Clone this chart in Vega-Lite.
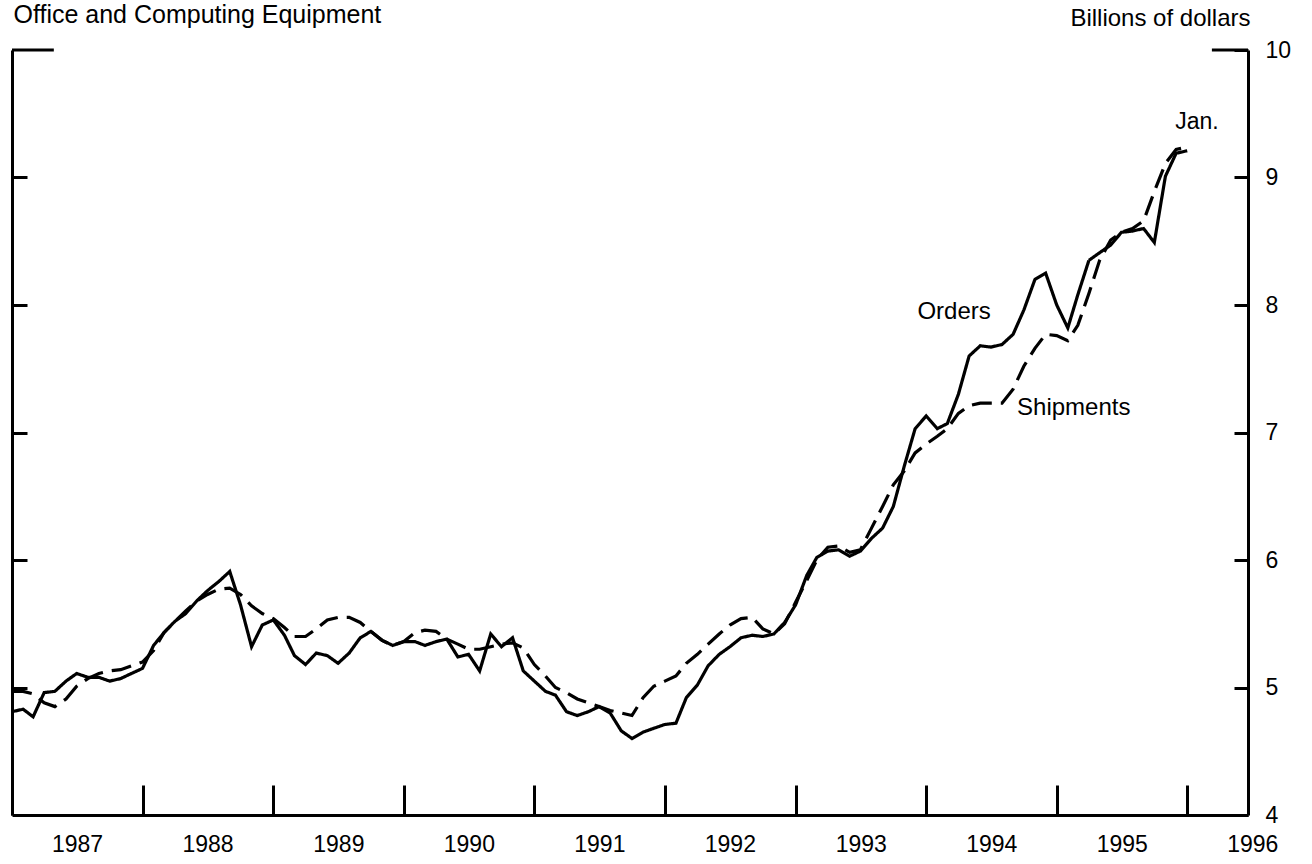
{
  "$schema": "https://vega.github.io/schema/vega-lite/v6.json",
  "width": 1236,
  "height": 765,
  "autosize": {"type": "none"},
  "padding": {"left": 12, "top": 50, "right": 64, "bottom": 49},
  "background": "white",
  "config": {"view": {"stroke": null}, "font": "Liberation Sans"},
  "data": {
    "values": [
      {"date":"1987-01","Orders":4.81,"Shipments":4.97},{"date":"1987-02","Orders":4.83,"Shipments":4.97},{"date":"1987-03","Orders":4.77,"Shipments":4.95},{"date":"1987-04","Orders":4.96,"Shipments":4.88},{"date":"1987-05","Orders":4.97,"Shipments":4.85},{"date":"1987-06","Orders":5.05,"Shipments":4.91},{"date":"1987-07","Orders":5.11,"Shipments":5.01},{"date":"1987-08","Orders":5.08,"Shipments":5.07},{"date":"1987-09","Orders":5.08,"Shipments":5.11},{"date":"1987-10","Orders":5.05,"Shipments":5.13},{"date":"1987-11","Orders":5.07,"Shipments":5.14},{"date":"1987-12","Orders":5.11,"Shipments":5.17},
      {"date":"1988-01","Orders":5.15,"Shipments":5.20},{"date":"1988-02","Orders":5.33,"Shipments":5.29},{"date":"1988-03","Orders":5.43,"Shipments":5.43},{"date":"1988-04","Orders":5.52,"Shipments":5.52},{"date":"1988-05","Orders":5.58,"Shipments":5.60},{"date":"1988-06","Orders":5.68,"Shipments":5.68},{"date":"1988-07","Orders":5.76,"Shipments":5.73},{"date":"1988-08","Orders":5.83,"Shipments":5.77},{"date":"1988-09","Orders":5.91,"Shipments":5.78},{"date":"1988-10","Orders":5.65,"Shipments":5.73},{"date":"1988-11","Orders":5.32,"Shipments":5.64},{"date":"1988-12","Orders":5.49,"Shipments":5.58},
      {"date":"1989-01","Orders":5.53,"Shipments":5.54},{"date":"1989-02","Orders":5.41,"Shipments":5.47},{"date":"1989-03","Orders":5.25,"Shipments":5.40},{"date":"1989-04","Orders":5.18,"Shipments":5.40},{"date":"1989-05","Orders":5.27,"Shipments":5.46},{"date":"1989-06","Orders":5.25,"Shipments":5.53},{"date":"1989-07","Orders":5.19,"Shipments":5.55},{"date":"1989-08","Orders":5.27,"Shipments":5.55},{"date":"1989-09","Orders":5.39,"Shipments":5.51},{"date":"1989-10","Orders":5.44,"Shipments":5.44},{"date":"1989-11","Orders":5.37,"Shipments":5.37},{"date":"1989-12","Orders":5.33,"Shipments":5.33},
      {"date":"1990-01","Orders":5.36,"Shipments":5.36},{"date":"1990-02","Orders":5.36,"Shipments":5.43},{"date":"1990-03","Orders":5.33,"Shipments":5.45},{"date":"1990-04","Orders":5.36,"Shipments":5.44},{"date":"1990-05","Orders":5.38,"Shipments":5.38},{"date":"1990-06","Orders":5.24,"Shipments":5.34},{"date":"1990-07","Orders":5.26,"Shipments":5.30},{"date":"1990-08","Orders":5.13,"Shipments":5.30},{"date":"1990-09","Orders":5.42,"Shipments":5.32},{"date":"1990-10","Orders":5.32,"Shipments":5.34},{"date":"1990-11","Orders":5.39,"Shipments":5.35},{"date":"1990-12","Orders":5.13,"Shipments":5.31},
      {"date":"1991-01","Orders":5.05,"Shipments":5.18},{"date":"1991-02","Orders":4.97,"Shipments":5.09},{"date":"1991-03","Orders":4.94,"Shipments":5.00},{"date":"1991-04","Orders":4.81,"Shipments":4.96},{"date":"1991-05","Orders":4.78,"Shipments":4.91},{"date":"1991-06","Orders":4.81,"Shipments":4.88},{"date":"1991-07","Orders":4.85,"Shipments":4.85},{"date":"1991-08","Orders":4.80,"Shipments":4.82},{"date":"1991-09","Orders":4.66,"Shipments":4.80},{"date":"1991-10","Orders":4.60,"Shipments":4.78},{"date":"1991-11","Orders":4.65,"Shipments":4.92},{"date":"1991-12","Orders":4.68,"Shipments":5.01},
      {"date":"1992-01","Orders":4.71,"Shipments":5.05},{"date":"1992-02","Orders":4.72,"Shipments":5.09},{"date":"1992-03","Orders":4.92,"Shipments":5.19},{"date":"1992-04","Orders":5.02,"Shipments":5.26},{"date":"1992-05","Orders":5.17,"Shipments":5.34},{"date":"1992-06","Orders":5.26,"Shipments":5.42},{"date":"1992-07","Orders":5.32,"Shipments":5.49},{"date":"1992-08","Orders":5.39,"Shipments":5.54},{"date":"1992-09","Orders":5.41,"Shipments":5.55},{"date":"1992-10","Orders":5.40,"Shipments":5.46},{"date":"1992-11","Orders":5.42,"Shipments":5.42},{"date":"1992-12","Orders":5.51,"Shipments":5.50},
      {"date":"1993-01","Orders":5.65,"Shipments":5.67},{"date":"1993-02","Orders":5.88,"Shipments":5.84},{"date":"1993-03","Orders":6.02,"Shipments":6.00},{"date":"1993-04","Orders":6.07,"Shipments":6.10},{"date":"1993-05","Orders":6.08,"Shipments":6.11},{"date":"1993-06","Orders":6.03,"Shipments":6.06},{"date":"1993-07","Orders":6.07,"Shipments":6.08},{"date":"1993-08","Orders":6.17,"Shipments":6.25},{"date":"1993-09","Orders":6.25,"Shipments":6.42},{"date":"1993-10","Orders":6.42,"Shipments":6.59},{"date":"1993-11","Orders":6.74,"Shipments":6.70},{"date":"1993-12","Orders":7.03,"Shipments":6.84},
      {"date":"1994-01","Orders":7.13,"Shipments":6.91},{"date":"1994-02","Orders":7.03,"Shipments":6.97},{"date":"1994-03","Orders":7.07,"Shipments":7.03},{"date":"1994-04","Orders":7.30,"Shipments":7.15},{"date":"1994-05","Orders":7.60,"Shipments":7.21},{"date":"1994-06","Orders":7.68,"Shipments":7.23},{"date":"1994-07","Orders":7.67,"Shipments":7.23},{"date":"1994-08","Orders":7.69,"Shipments":7.23},{"date":"1994-09","Orders":7.77,"Shipments":7.34},{"date":"1994-10","Orders":7.96,"Shipments":7.52},{"date":"1994-11","Orders":8.20,"Shipments":7.66},{"date":"1994-12","Orders":8.25,"Shipments":7.77},
      {"date":"1995-01","Orders":8.00,"Shipments":7.76},{"date":"1995-02","Orders":7.82,"Shipments":7.72},{"date":"1995-03","Orders":8.08,"Shipments":7.84},{"date":"1995-04","Orders":8.35,"Shipments":8.09},{"date":"1995-05","Orders":8.41,"Shipments":8.35},{"date":"1995-06","Orders":8.47,"Shipments":8.51},{"date":"1995-07","Orders":8.57,"Shipments":8.57},{"date":"1995-08","Orders":8.58,"Shipments":8.60},{"date":"1995-09","Orders":8.60,"Shipments":8.66},{"date":"1995-10","Orders":8.49,"Shipments":8.89},{"date":"1995-11","Orders":9.01,"Shipments":9.11},{"date":"1995-12","Orders":9.19,"Shipments":9.22},
      {"date":"1996-01","Orders":9.21,"Shipments":9.24}
    ]
  },
  "resolve": {"axis": {"x": "independent", "y": "independent"}},
  "layer": [
    {
      "transform": [{"fold": ["Orders", "Shipments"], "as": ["series", "value"]}],
      "mark": {"type": "line", "color": "black", "strokeWidth": 3.2, "clip": false},
      "encoding": {
        "x": {
          "field": "date", "type": "temporal",
          "scale": {"type": "utc", "domain": [{"year": 1987, "month": 1, "date": 1, "utc": true}, {"year": 1996, "month": 6, "date": 19, "utc": true}]},
          "axis": {
            "values": [
              {"year": 1987, "month": 1, "date": 1, "utc": true},{"year": 1988, "month": 1, "date": 1, "utc": true},{"year": 1989, "month": 1, "date": 1, "utc": true},{"year": 1990, "month": 1, "date": 1, "utc": true},{"year": 1991, "month": 1, "date": 1, "utc": true},{"year": 1992, "month": 1, "date": 1, "utc": true},{"year": 1993, "month": 1, "date": 1, "utc": true},{"year": 1994, "month": 1, "date": 1, "utc": true},{"year": 1995, "month": 1, "date": 1, "utc": true},{"year": 1996, "month": 1, "date": 1, "utc": true}
            ],
            "labelExpr": "utcFormat(datum.value, '%Y')",
            "tickSize": -30, "tickWidth": 3, "tickColor": "black",
            "domainWidth": 3, "domainColor": "black",
            "labelPadding": 48, "labelOffset": 65,
            "labelFontSize": 23, "labelColor": "black", "labelFont": "Liberation Sans",
            "labelAlign": "center", "labelBaseline": "top",
            "labelOverlap": false, "labelBound": false, "labelFlush": false,
            "grid": false, "title": null
          }
        },
        "y": {
          "field": "value", "type": "quantitative",
          "scale": {"domain": [4, 10], "nice": false, "zero": false},
          "axis": {
            "orient": "right", "values": [4, 5, 6, 7, 8, 9, 10],
            "tickSize": -14, "tickWidth": 3, "tickColor": "black",
            "domainWidth": 3, "domainColor": "black",
            "labelPadding": 31, "labelFontSize": 23, "labelColor": "black", "labelFont": "Liberation Sans",
            "labelAlign": "left", "labelBaseline": "middle", "labelBound": false, "labelFlush": false, "labelOverlap": false,
            "grid": false,
            "title": "Billions of dollars", "titleAngle": 0, "titleAlign": "right", "titleBaseline": "alphabetic",
            "titleX": 2, "titleY": -25, "titleFontSize": 24, "titleFontWeight": "normal", "titleColor": "black", "titleFont": "Liberation Sans"
          }
        },
        "strokeDash": {
          "field": "series", "type": "nominal",
          "scale": {"domain": ["Orders", "Shipments"], "range": [[1, 0], [20, 9]]},
          "legend": null
        }
      }
    },
    {
      "data": {"values": [{}]},
      "mark": {"type": "rule", "color": "black", "strokeWidth": 3, "clip": false},
      "encoding": {
        "x": {"datum": {"year": 1987, "month": 1, "date": 1, "utc": true}, "type": "temporal", "axis": null},
        "x2": {"datum": {"year": 1987, "month": 4, "date": 28, "utc": true}},
        "y": {
          "datum": 10, "type": "quantitative",
          "axis": {
            "orient": "left", "values": [5, 6, 7, 8, 9],
            "tickSize": -15, "tickWidth": 3, "tickColor": "black",
            "domainWidth": 3, "domainColor": "black",
            "labels": false, "grid": false,
            "title": "Office and Computing Equipment", "titleAngle": 0, "titleAlign": "left", "titleBaseline": "alphabetic",
            "titleX": 1, "titleY": -28, "titleFontSize": 25, "titleFontWeight": "normal", "titleColor": "black", "titleFont": "Liberation Sans"
          }
        }
      }
    },
    {
      "data": {"values": [{}]},
      "mark": {"type": "rule", "color": "black", "strokeWidth": 3, "clip": false},
      "encoding": {
        "x": {"datum": {"year": 1996, "month": 3, "date": 10, "utc": true}, "type": "temporal", "axis": null},
        "x2": {"datum": {"year": 1996, "month": 6, "date": 19, "utc": true}},
        "y": {"datum": 10, "type": "quantitative", "axis": null}
      }
    },
    {
      "data": {"values": [{}]},
      "mark": {"type": "text", "text": "Orders", "align": "center", "baseline": "alphabetic", "fontSize": 24, "font": "Liberation Sans", "color": "black"},
      "encoding": {
        "x": {"datum": {"year": 1994, "month": 3, "date": 20, "utc": true}, "type": "temporal", "axis": null},
        "y": {"datum": 7.89, "type": "quantitative", "axis": null}
      }
    },
    {
      "data": {"values": [{}]},
      "mark": {"type": "text", "text": "Shipments", "align": "left", "baseline": "alphabetic", "fontSize": 24, "font": "Liberation Sans", "color": "black"},
      "encoding": {
        "x": {"datum": {"year": 1994, "month": 9, "date": 12, "utc": true}, "type": "temporal", "axis": null},
        "y": {"datum": 7.14, "type": "quantitative", "axis": null}
      }
    },
    {
      "data": {"values": [{}]},
      "mark": {"type": "text", "text": "Jan.", "align": "center", "baseline": "alphabetic", "fontSize": 23, "font": "Liberation Sans", "color": "black"},
      "encoding": {
        "x": {"datum": {"year": 1996, "month": 1, "date": 28, "utc": true}, "type": "temporal", "axis": null},
        "y": {"datum": 9.38, "type": "quantitative", "axis": null}
      }
    }
  ]
}
